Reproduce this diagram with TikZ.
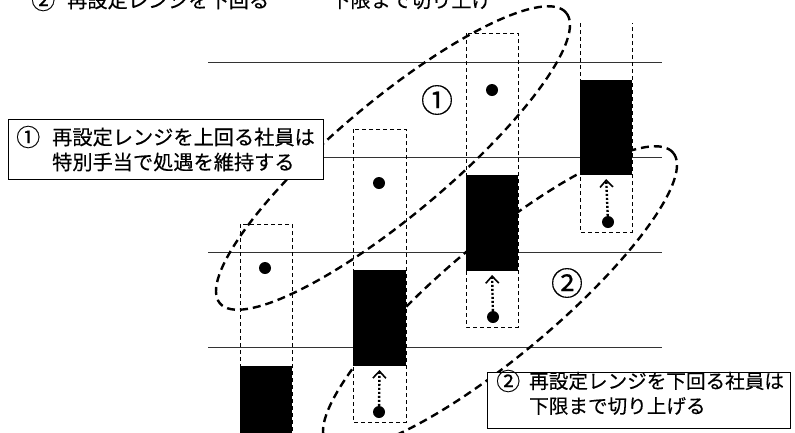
\documentclass[tikz,border=0pt]{standalone}
\usepackage{fontspec}
\newfontfamily\jp[FakeBold=0.3]{Noto Sans CJK JP}
\usetikzlibrary{arrows.meta}
\begin{document}
\begin{tikzpicture}[x=1pt,y=-1pt,
  hline/.style={line width=1pt, draw=black!80},
  dbox/.style={line width=0.9pt, dash pattern=on 4pt off 3pt},
  blk/.style={fill=black, draw=none, inner sep=0pt, outer sep=0pt, minimum width=52pt},
  dot/.style={circle, fill=black, inner sep=0pt, minimum size=12pt},
  oval/.style={line width=2.4pt, dash pattern=on 8pt off 5pt},
  lift/.style={line width=2.4pt, dash pattern=on 2pt off 2pt, shorten >=4pt,
    -{Straight Barb[length=7pt,width=13pt,line width=1.6pt]}},
  lbl/.style={draw, line width=1.4pt, fill=white, inner sep=0pt, anchor=north west},
  txt/.style={font=\jp\fontsize{20.2}{24}\selectfont, anchor=west, inner sep=0pt},
  txtb/.style={font=\jp\fontsize{19.6}{24}\selectfont, anchor=west, inner sep=0pt},
  cnum/.style={font=\jp\fontsize{24}{26}\selectfont, anchor=west, inner sep=0pt},
  num/.style={font=\jp\fontsize{32}{34}\selectfont, inner sep=0pt}]
\useasboundingbox (0,0) rectangle (795,432);
\clip (0,0) rectangle (795,432);
\fill[white] (0,0) rectangle (795,432);

% horizontal grid lines
\foreach \yy/\n in {62/a,157/b,252/c,347/d}{
  \coordinate (hl\n) at (208,\yy);
  \coordinate (hr\n) at (662,\yy);
  \draw[hline] (hl\n) -- (hr\n);
}

% dashed columns
\draw[dbox] (240,224) rectangle (292,445);
\draw[dbox] (353,129) rectangle (406,422);
\draw[dbox] (466,33) rectangle (518,327);
\draw[dbox] (580,23) -- (580,232) -- (632,232) -- (632,23);

% ellipses
\coordinate (E1) at (393,158);
\coordinate (E2) at (500,298);
\draw[oval, rotate around={40:(E1)}] (E1) ellipse [x radius=226pt, y radius=57pt];
\draw[oval, rotate around={40:(E2)}] (E2) ellipse [x radius=226pt, y radius=57pt];

% black bars
\node[blk, minimum height=74pt] (b1) at (266,403) {};
\node[blk, minimum height=96pt, minimum width=53pt] (b2) at (379.5,318) {};
\node[blk, minimum height=96pt] (b3) at (492,223) {};
\node[blk, minimum height=95pt] (b4) at (606,127.5) {};

% dots
\node[dot] (d1) at (265,268) {};
\node[dot] (d2) at (379,183) {};
\node[dot] (d3) at (492,90) {};
\node[dot] (e2) at (379,412) {};
\node[dot] (e3) at (493,317) {};
\node[dot] (e4) at (608,222) {};

% lift arrows
\draw[lift] (e2) -- (b2.south);
\draw[lift] (e3) -- (b3.south);
\draw[lift] (e4) -- (b4.south);

% circled numbers
\node[num] (n1) at (437,100) {①};
\node[num] (n2) at (567,283) {②};

% label boxes
\node[lbl, minimum width=315pt, minimum height=60pt] (L1) at (8,119) {};
\node[cnum] (L1a) at (16,137) {①};
\node[txt] (L1b) at (52,137) {再設定レンジを上回る社員は};
\node[txt] (L1c) at (52,162) {特別手当で処遇を維持する};

\node[lbl, minimum width=303pt, minimum height=56pt] (L2) at (487,372) {};
\node[cnum] (L2a) at (496,381) {②};
\node[txtb] (L2b) at (529,381) {再設定レンジを下回る社員は};
\node[txtb] (L2c) at (529,406) {下限まで切り上げる};

% cut-off heading
\node[cnum] (T1) at (31,0) {②};
\node[txt] (T2) at (67,0) {再設定レンジを下回る};
\node[txt] (T3) at (330,0) {下限まで切り上げ};
\end{tikzpicture}
\end{document}
